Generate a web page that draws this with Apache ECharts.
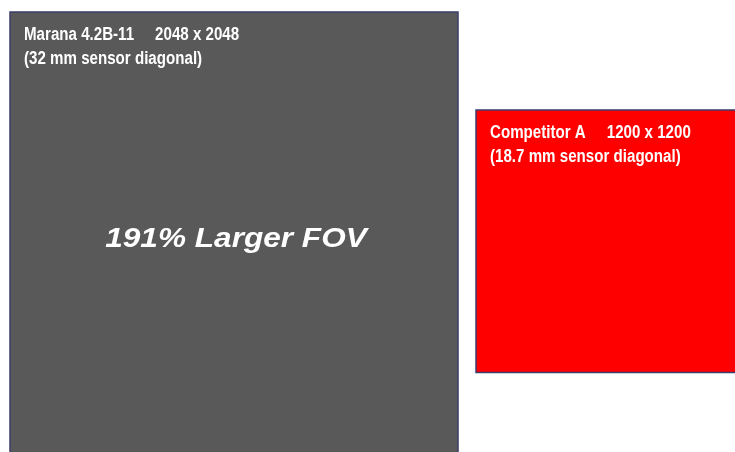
<!DOCTYPE html>
<html>
<head>
<meta charset="utf-8">
<script src="https://cdn.jsdelivr.net/npm/echarts@6/dist/echarts.min.js"></script>
<style>
  html, body { margin: 0; padding: 0; background: #fff; }
  #chart { width: 735px; height: 452px; }
</style>
</head>
<body>
<div id="chart"></div>
<script>
// sensor data
const sensorNames = ['Marana 4.2B-11', 'Competitor A'];
const sensorPixels = [2048, 1200];
const sensorDiagonals = [32, 18.7];

// px per sensor pixel, so the squares keep their real proportion
const PX = 448 / 2048;
const corners = [[10, 12], [476, 110]];           // top-left corner in px
const fills = ['#595959', '#ff0000'];

const fovGain = Math.round((Math.pow(sensorPixels[0] / sensorPixels[1], 2) - 1) * 100);

const chart = echarts.init(document.getElementById('chart'));

const seriesData = sensorNames.map((name, i) => [
  corners[i][0] / PX, corners[i][1] / PX, sensorPixels[i], sensorDiagonals[i]
]);

function renderItem(params, api) {
  const i = params.dataIndex;
  const x0 = api.value(0), y0 = api.value(1), size = api.value(2);
  const p0 = api.coord([x0, y0]);
  const p1 = api.coord([x0 + size, y0 + size]);
  const children = [{
    type: 'rect',
    shape: { x: p0[0], y: p0[1], width: p1[0] - p0[0], height: p1[1] - p0[1] },
    style: { fill: fills[i], stroke: '#3d3d6c', lineWidth: 1.5 }
  }, {
    type: 'text',
    x: p0[0] + 14,
    y: p0[1] + 11.5,
    scaleX: 0.84,
    style: {
      text: sensorNames[i] + '     ' + size + ' x ' + size + '\n(' + api.value(3) + ' mm sensor diagonal)',
      font: 'bold 18px "Liberation Sans", Arial, sans-serif',
      fill: '#ffffff',
      lineHeight: 24,
      verticalAlign: 'top'
    }
  }];
  if (i === 0) {
    children.push({
      type: 'text',
      x: (p0[0] + p1[0]) / 2 + 2,
      y: p0[1] + 228,
      scaleX: 1.17,
      style: {
        text: fovGain + '% Larger FOV',
        font: 'italic bold 27px "Liberation Sans", Arial, sans-serif',
        fill: '#ffffff',
        align: 'center',
        verticalAlign: 'middle'
      }
    });
  }
  return { type: 'group', children: children };
}

chart.setOption({
  animation: false,
  grid: { left: 0, right: 0, top: 0, bottom: 0 },
  xAxis: { type: 'value', min: 0, max: 735 / PX, show: false },
  yAxis: { type: 'value', min: 0, max: 452 / PX, inverse: true, show: false },
  series: [{
    type: 'custom',
    renderItem: renderItem,
    data: seriesData,
    clip: true
  }]
});
</script>
</body>
</html>
